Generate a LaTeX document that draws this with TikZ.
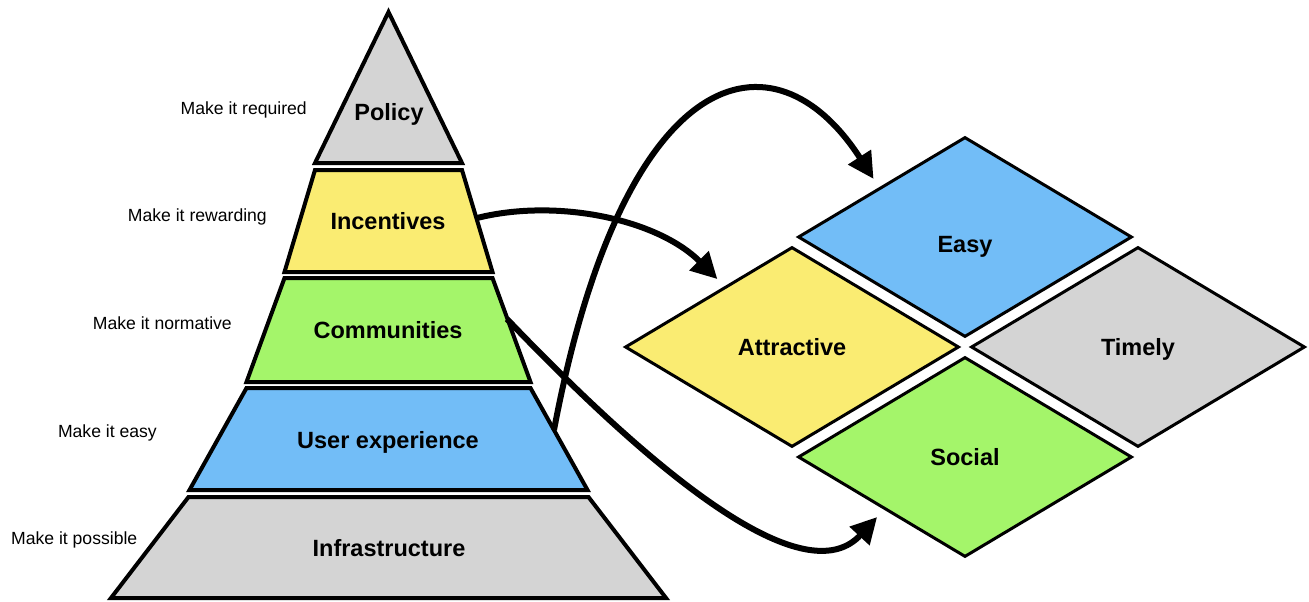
\documentclass[tikz,border=0pt]{standalone}
\usepackage{fontspec}
\setmainfont{Liberation Sans}
\usetikzlibrary{shapes.geometric,arrows.meta}
\definecolor{lgray}{HTML}{D4D4D4}
\definecolor{lyellow}{HTML}{FAEC72}
\definecolor{lgreen}{HTML}{A4F56A}
\definecolor{lblue}{HTML}{72BDF7}
\tikzset{
  layer/.style={draw,line width=4pt},
  layertext/.style={font=\fontsize{23.5}{28}\selectfont\bfseries,text height=17pt,text depth=0pt,inner sep=0pt},
  hint/.style={anchor=east,font=\fontsize{17.6}{21}\selectfont,text height=12.6pt,text depth=0pt,inner sep=0pt},
  tile/.style={draw,shape=diamond,line width=3pt,aspect=1.67,minimum width=334pt,minimum height=200pt,inner sep=0pt,layertext},
  flow/.style={-{Triangle[length=26pt,width=26pt]},line width=6pt,shorten >=10pt}
}
\begin{document}
\begin{tikzpicture}[x=1pt,y=-1pt]
        \useasboundingbox (0,0) rectangle (1309,602);
        % pyramid
        \draw[layer,fill=lgray] (388.5,12)--(462,163)--(315,163)--cycle;
        \foreach \yt/\yb/\wt/\wb/\c in {170/272/73.5/104/lyellow,278/382/104/142/lgreen,388/490/142/199/lblue,497/598/200/277.5/lgray}
        \draw[layer,fill=\c] ({388.5-\wt},\yt)--({388.5+\wt},\yt)--({388.5+\wb},\yb)--({388.5-\wb},\yb)--cycle;
        \node[layertext] (policy) at (389,112) {Policy};
        \node[layertext] (incent) at (388,221) {Incentives};
        \node[layertext] (comm) at (388,330) {Communities};
        \node[layertext] (ux) at (388,440) {User experience};
        \node[layertext] (infra) at (389,547.5) {Infrastructure};
        \foreach \i/\x/\y/\t in {1/307/108.5/required,2/267/215.5/rewarding,3/232/323.5/normative,4/157/431/easy,5/137.5/538/possible}
        \node[hint] (make\i) at (\x,\y) {Make it \t};
        \coordinate (incent-r) at (477,218);
        \coordinate (comm-r) at (507,319);
        \coordinate (ux-r) at (554,430);
        % tiles
        \node[tile,fill=lblue,text height=30pt] (easy) at (965,237) {Easy};
        \node[tile,fill=lyellow] (attr) at (792,347) {Attractive};
        \node[tile,fill=lgray] (timely) at (1138,347) {Timely};
        \node[tile,fill=lgreen] (social) at (965,457) {Social};
        % arrows
        \draw[flow] (incent-r) .. controls +(80,-20) and +(-67,-67) .. (attr.138);
        \draw[flow] (comm-r) .. controls +(173,181) and +(-74,80) .. (social.213);
        \draw[flow] (ux-r) .. controls +(70,-370) and +(-105,-163) .. (easy.150);
\end{tikzpicture}
\end{document}
